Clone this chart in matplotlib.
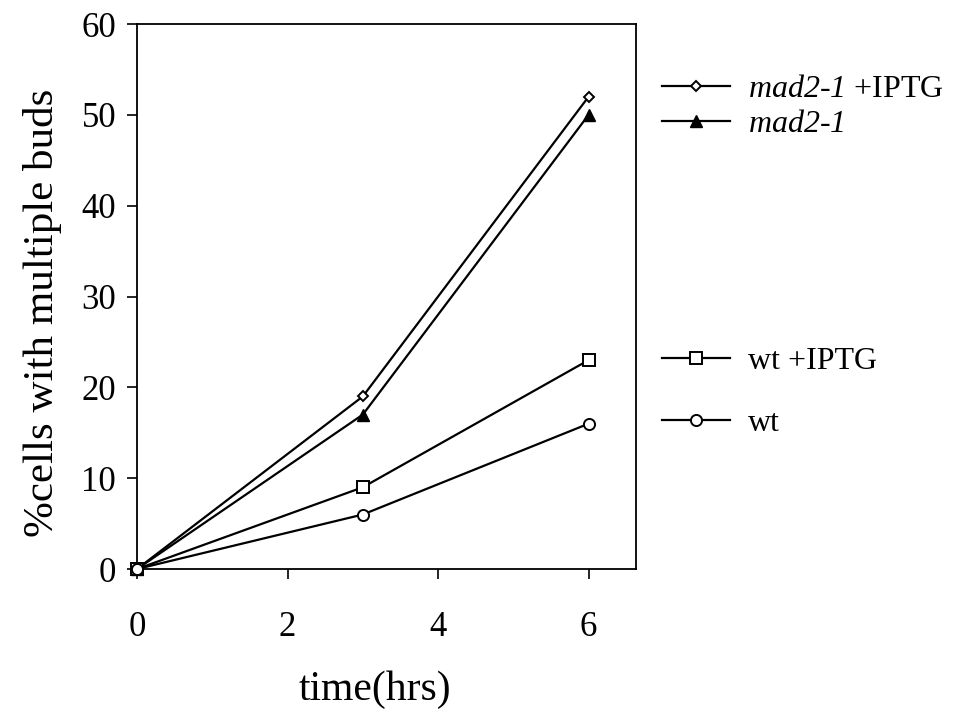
import matplotlib
matplotlib.use('Agg')
import matplotlib.pyplot as plt

plt.rcParams['font.family'] = ['Liberation Serif', 'DejaVu Serif']
plt.rcParams['mathtext.fontset'] = 'custom'
plt.rcParams['mathtext.rm'] = 'Liberation Serif:italic'
plt.rcParams['mathtext.it'] = 'Liberation Serif:italic'

# datos
time = [0, 3, 6]
mad2_iptg = [0, 19, 52]
mad2 = [0, 17, 50]
wt_iptg = [0, 9, 23]
wt = [0, 6, 16]

fig = plt.figure(figsize=(9.59, 7.17), dpi=100)
ax = fig.add_axes([0.1429, 0.2064, 0.5203, 0.7601])

kw = dict(color='black', lw=1.6, clip_on=False, zorder=3)
l1, = ax.plot(time, mad2_iptg, marker='D', ms=5, mfc='white', mew=1.4,
              label=r'$\text{mad2-1}$ +IPTG', **kw)
l2, = ax.plot(time, mad2, marker='^', ms=8, mfc='black',
              label=r'$\text{mad2-1}$', **kw)
l3, = ax.plot(time, wt_iptg, marker='s', ms=8, mfc='white', mew=1.4,
              label='wt +IPTG', **kw)
l4, = ax.plot(time, wt, marker='o', ms=8, mfc='white', mew=1.4,
              label='wt', **kw)

ax.set_xlim(0, 6.63)
ax.set_ylim(0, 60)
ax.set_xticks([0, 2, 4, 6])
ax.set_yticks(range(0, 61, 10))
ax.tick_params(direction='out', length=7, width=1.2, labelsize=25, pad=8)
ax.tick_params(axis='x', pad=23)
for s in ax.spines.values():
    s.set_linewidth(1.3)

ax.set_xlabel('time(hrs)', fontsize=30, va='center')
ax.xaxis.set_label_coords(0.477, -0.222)
ax.set_ylabel('%cells with multiple buds', fontsize=31)
ax.yaxis.set_label_coords(-0.15, 0.47)

leg_kw = dict(frameon=False, fontsize=23, handlelength=2.13, handletextpad=0.56,
              borderaxespad=0, borderpad=0)
lg1 = fig.legend(handles=[l1, l2], loc='upper left',
                 bbox_to_anchor=(0.69, 0.896), labelspacing=0.17, **leg_kw)
lg2 = fig.legend(handles=[l3, l4], loc='upper left',
                 bbox_to_anchor=(0.69, 0.516), labelspacing=1.0, **leg_kw)

fig.savefig('out.png', dpi=100)
